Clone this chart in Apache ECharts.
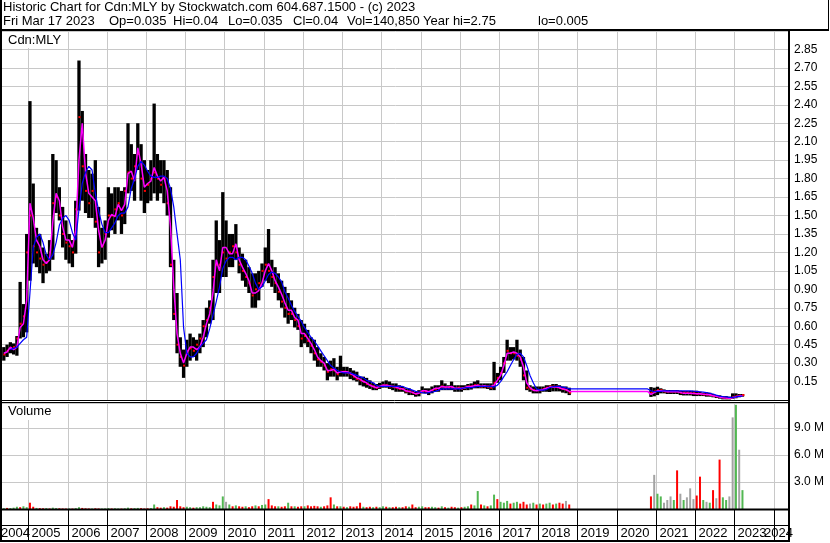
<!DOCTYPE html>
<html><head><meta charset="utf-8">
<script src="https://cdn.jsdelivr.net/npm/echarts@6/dist/echarts.min.js"></script>
<style>html,body{margin:0;padding:0;background:#fff;}#c{width:830px;height:543px;}</style>
</head><body><div id="c"></div>
<script>
// ---------- header texts ----------
const headerLine1 = 'Historic Chart for Cdn:MLY by Stockwatch.com 604.687.1500 - (c) 2023';
const headerFields = ['Fri Mar 17 2023', 'Op=0.035', 'Hi=0.04', 'Lo=0.035', 'Cl=0.04', 'Vol=140,850', 'Year hi=2.75', 'lo=0.005'];
const headerFieldX = [3, 109, 173, 228, 293, 347, 423, 538];
const symbolLabel = 'Cdn:MLY';
const volumeLabel = 'Volume';
const yearLabels = ['2004','2005','2006','2007','2008','2009','2010','2011','2012','2013','2014','2015','2016','2017','2018','2019','2020','2021','2022','2023','2024'];
const yearStarts = [2004,2005,2006,2007,2008,2009,2010,2011,2012,2013,2014,2015,2016,2017,2018,2019,2020,2021,2022,2023,2024];

// ---------- monthly data, 2004-05 .. 2023-03 ----------
const N = null;
const hi = [
 0.43,0.45,0.47,0.46,0.52,0.96,0.78,1.35,
 2.43,1.76,1.40,1.35,1.24,1.19,1.30,2.00,1.95,1.73,1.57,1.46,
 1.35,1.30,1.62,2.76,2.35,2.00,1.87,1.84,1.95,1.57,1.40,1.46,
 1.73,1.68,1.73,1.73,1.70,1.73,2.25,2.08,2.00,2.25,2.08,1.95,
 1.87,1.95,2.41,2.00,1.95,1.95,1.87,1.73,1.14,0.87,0.51,0.41,
 0.49,0.54,0.51,0.49,0.54,0.65,0.75,0.81,1.14,1.46,1.30,1.69,
 1.46,1.35,1.35,1.43,1.24,1.19,1.14,1.08,1.03,1.03,1.05,1.11,
 1.24,1.39,1.14,1.08,1.03,0.97,0.92,0.87,0.81,0.75,0.70,0.65,
 0.62,0.57,0.51,0.49,0.43,0.38,0.35,0.30,0.32,0.34,0.27,0.36,
 0.27,0.27,0.26,0.24,0.23,0.19,0.19,0.18,0.16,0.14,0.13,0.14,
 0.15,0.16,0.15,0.135,0.135,0.12,0.11,0.095,0.095,0.08,0.067,0.08,
 0.11,0.095,0.095,0.11,0.12,0.12,0.16,0.135,0.12,0.15,0.12,0.12,
 0.12,0.12,0.13,0.135,0.15,0.16,0.135,0.135,0.135,0.135,0.31,0.22,
 0.27,0.35,0.49,0.43,0.43,0.49,0.41,0.35,0.24,0.12,0.11,0.11,
 0.11,0.11,0.12,0.12,0.13,0.13,0.12,0.11,0.11,0.10,N,N,
 N,N,N,N,N,N,N,N,N,N,N,N,
 N,N,N,N,N,N,N,N,N,N,0.105,0.10,
 0.108,0.095,0.086,0.081,0.081,0.081,0.081,0.075,0.073,0.073,0.073,0.075,
 0.075,0.067,0.059,0.062,0.059,0.049,0.04,0.038,0.032,0.032,0.027,0.054,
 0.054,0.049,0.049
];
const lo = [
 0.32,0.35,0.38,0.37,0.36,0.50,0.51,0.55,
 0.97,1.11,1.08,1.03,0.95,1.03,1.05,1.14,1.52,1.46,1.24,1.14,
 1.11,1.08,1.19,1.54,1.62,1.52,1.48,1.48,1.40,1.08,1.11,1.14,
 1.32,1.38,1.35,1.46,1.35,1.43,1.68,1.70,1.62,1.87,1.62,1.52,
 1.60,1.62,1.68,1.62,1.68,1.60,1.50,1.08,0.65,0.38,0.27,0.18,
 0.27,0.32,0.35,0.32,0.38,0.43,0.51,0.62,0.65,0.87,0.87,1.00,
 1.00,1.08,1.08,1.14,1.03,0.97,0.92,0.87,0.75,0.75,0.81,0.92,
 0.97,0.95,0.92,0.87,0.81,0.75,0.67,0.62,0.65,0.59,0.57,0.43,
 0.46,0.43,0.38,0.32,0.27,0.27,0.24,0.16,0.19,0.19,0.16,0.19,
 0.19,0.19,0.17,0.16,0.15,0.12,0.11,0.10,0.09,0.08,0.08,0.09,
 0.10,0.10,0.09,0.08,0.067,0.067,0.067,0.054,0.04,0.04,0.027,0.03,
 0.054,0.054,0.04,0.054,0.067,0.067,0.08,0.08,0.08,0.08,0.067,0.067,
 0.067,0.08,0.08,0.085,0.095,0.095,0.095,0.095,0.09,0.08,0.08,0.14,
 0.16,0.22,0.32,0.32,0.33,0.32,0.27,0.16,0.08,0.067,0.054,0.054,
 0.054,0.067,0.067,0.065,0.07,0.07,0.07,0.06,0.055,0.04,N,N,
 N,N,N,N,N,N,N,N,N,N,N,N,
 N,N,N,N,N,N,N,N,N,N,0.025,0.03,
 0.04,0.054,0.054,0.049,0.049,0.049,0.049,0.04,0.037,0.037,0.037,0.032,
 0.032,0.032,0.032,0.027,0.027,0.022,0.016,0.011,0.005,0.005,0.005,0.01,
 0.014,0.022,0.027
];
const cl = [
 0.37,0.40,0.42,0.43,0.50,0.62,0.68,1.20,
 1.50,1.25,1.20,1.15,1.10,1.12,1.20,1.60,1.65,1.50,1.35,1.28,
 1.25,1.20,1.55,2.30,1.90,1.70,1.60,1.70,1.45,1.20,1.25,1.35,
 1.50,1.50,1.55,1.60,1.50,1.70,1.85,1.80,1.90,2.00,1.80,1.70,
 1.75,1.80,1.85,1.80,1.75,1.80,1.60,1.10,0.70,0.45,0.35,0.28,
 0.40,0.42,0.40,0.45,0.50,0.60,0.65,0.75,1.00,1.10,1.10,1.20,
 1.15,1.20,1.25,1.20,1.10,1.05,1.00,0.95,0.85,0.90,0.95,1.05,
 1.10,1.05,1.00,0.95,0.88,0.80,0.75,0.70,0.70,0.65,0.60,0.50,
 0.52,0.48,0.44,0.38,0.33,0.31,0.28,0.23,0.25,0.24,0.21,0.23,
 0.23,0.22,0.21,0.19,0.17,0.16,0.15,0.13,0.12,0.11,0.10,0.11,
 0.12,0.12,0.11,0.11,0.10,0.09,0.09,0.07,0.07,0.06,0.05,0.06,
 0.07,0.07,0.065,0.08,0.09,0.09,0.11,0.10,0.10,0.10,0.09,0.10,
 0.09,0.10,0.11,0.11,0.12,0.12,0.11,0.11,0.11,0.10,0.14,0.18,
 0.22,0.30,0.40,0.38,0.38,0.36,0.33,0.20,0.10,0.09,0.08,0.08,
 0.08,0.09,0.10,0.11,0.11,0.11,0.10,0.09,0.08,0.06,N,N,
 N,N,N,N,N,N,N,N,N,N,N,N,
 N,N,N,N,N,N,N,N,N,N,0.06,0.07,
 0.08,0.08,0.07,0.07,0.07,0.07,0.07,0.06,0.06,0.06,0.055,0.055,
 0.05,0.05,0.045,0.045,0.04,0.035,0.03,0.025,0.02,0.015,0.015,0.025,
 0.03,0.035,0.04
];
const maFast = [
 0.38,0.39,0.43,0.41,0.43,0.59,0.62,0.81,
 1.60,1.48,1.30,1.25,1.14,1.11,1.14,1.45,1.68,1.62,1.41,1.30,
 1.30,1.24,1.38,1.95,2.25,1.85,1.68,1.65,1.62,1.38,1.24,1.30,
 1.46,1.51,1.49,1.59,1.54,1.59,1.84,1.86,1.78,2.05,1.92,1.73,
 1.76,1.78,1.89,1.82,1.78,1.81,1.70,1.41,0.92,0.54,0.38,0.30,
 0.38,0.43,0.43,0.41,0.43,0.51,0.62,0.70,0.87,1.14,1.05,1.24,
 1.24,1.19,1.19,1.27,1.14,1.08,1.03,0.97,0.87,0.87,0.89,0.95,
 1.05,1.11,1.05,0.97,0.92,0.86,0.79,0.73,0.73,0.67,0.65,0.54,
 0.54,0.50,0.46,0.41,0.35,0.32,0.30,0.24,0.24,0.25,0.22,0.23,
 0.23,0.23,0.22,0.20,0.18,0.17,0.15,0.14,0.12,0.11,0.10,0.11,
 0.12,0.12,0.115,0.11,0.105,0.095,0.09,0.075,0.07,0.062,0.05,0.055,
 0.075,0.075,0.067,0.08,0.095,0.095,0.11,0.105,0.105,0.11,0.095,0.095,
 0.095,0.10,0.11,0.11,0.115,0.12,0.11,0.115,0.11,0.11,0.12,0.16,
 0.20,0.28,0.38,0.38,0.39,0.38,0.35,0.27,0.14,0.10,0.08,0.075,
 0.08,0.085,0.095,0.105,0.105,0.108,0.10,0.09,0.085,0.07,N,N,
 N,N,N,N,N,N,N,N,N,N,N,N,
 N,N,N,N,N,N,N,N,N,0.07,0.045,0.06,
 0.075,0.075,0.073,0.067,0.067,0.07,0.067,0.062,0.054,0.054,0.054,0.052,
 0.05,0.05,0.046,0.044,0.042,0.035,0.03,0.024,0.019,0.016,0.014,0.019,
 0.027,0.032,0.035
];
const maSlow = [
 N,N,0.41,0.42,0.43,0.46,0.49,0.51,
 0.87,1.24,1.32,1.35,1.28,1.18,1.14,1.18,1.28,1.42,1.48,1.50,
 1.46,1.36,1.30,1.55,1.76,1.85,1.90,1.87,1.68,1.54,1.43,1.36,
 1.36,1.40,1.44,1.50,1.52,1.52,1.57,1.72,1.80,1.90,1.94,1.91,
 1.86,1.82,1.81,1.81,1.82,1.82,1.80,1.72,1.57,1.35,1.14,0.59,
 0.38,0.35,0.35,0.38,0.43,0.46,0.49,0.58,0.69,0.80,0.92,1.07,
 1.13,1.16,1.16,1.14,1.16,1.16,1.14,1.09,1.03,0.95,0.90,0.92,
 0.97,1.02,1.04,1.03,1.00,0.96,0.88,0.83,0.77,0.72,0.68,0.64,
 0.59,0.55,0.51,0.48,0.44,0.40,0.36,0.32,0.28,0.26,0.24,0.23,
 0.22,0.22,0.22,0.21,0.20,0.19,0.18,0.16,0.15,0.14,0.12,0.11,
 0.11,0.11,0.11,0.11,0.11,0.11,0.11,0.10,0.09,0.08,0.07,0.065,
 0.06,0.055,0.06,0.065,0.07,0.08,0.09,0.09,0.09,0.09,0.09,0.09,
 0.09,0.10,0.10,0.10,0.105,0.11,0.11,0.11,0.11,0.11,0.105,0.12,
 0.15,0.19,0.23,0.28,0.33,0.37,0.38,0.35,0.28,0.20,0.14,0.09,
 0.08,0.08,0.085,0.10,0.108,0.11,0.11,0.105,0.10,0.09,N,N,
 N,N,N,N,N,N,N,N,N,N,N,N,
 N,N,N,N,N,N,N,N,N,0.09,0.075,0.067,
 0.07,0.07,0.075,0.075,0.075,0.075,0.075,0.075,0.075,0.075,0.075,0.072,
 0.07,0.067,0.064,0.06,0.055,0.049,0.04,0.032,0.027,0.025,0.022,0.022,
 0.025,0.03,0.032
];
// volume in millions of shares, and direction: u = up (green), d = down (red), n = unchanged (grey)
const volM = [
 0.08,0.12,0.1,0.15,0.25,0.2,0.3,0.2,
 0.7,0.25,0.12,0.1,0.08,0.1,0.06,0.15,0.1,0.08,0.06,0.05,
 0.06,0.05,0.1,0.2,0.12,0.08,0.06,0.05,0.08,0.06,0.05,0.06,
 0.1,0.06,0.08,0.06,0.05,0.08,0.15,0.08,0.1,0.12,0.1,0.06,
 0.08,0.1,0.5,0.2,0.15,0.2,0.15,0.3,0.25,1.0,0.3,0.2,
 0.25,0.2,0.15,0.2,0.2,0.3,0.25,0.2,0.8,0.5,0.4,1.4,
 0.8,0.5,0.3,0.4,0.3,0.25,0.3,0.2,0.3,0.4,0.3,0.45,
 0.5,1.1,0.4,0.3,0.3,0.25,0.3,0.7,0.3,0.3,0.25,0.3,
 0.3,0.4,0.3,0.35,0.3,0.25,0.3,0.4,1.3,0.5,0.3,0.3,
 0.25,0.2,0.3,0.25,0.3,0.7,0.25,0.2,0.25,0.2,0.25,0.2,
 0.3,0.25,0.2,0.2,0.25,0.2,0.2,0.3,0.25,0.5,0.2,0.25,
 0.3,0.2,0.2,0.25,0.2,0.15,0.3,0.2,0.15,0.25,0.2,0.15,
 0.2,0.25,0.3,0.5,0.4,2.0,0.5,0.4,0.3,0.4,1.6,1.1,
 0.8,0.7,0.9,0.6,0.7,0.8,0.6,0.8,0.5,0.6,0.7,0.5,
 0.6,0.5,0.6,0.7,0.5,0.6,0.7,0.6,0.9,0.5,N,N,
 N,N,N,N,N,N,N,N,N,N,N,N,
 N,N,N,N,N,N,N,N,N,N,1.4,3.8,
 1.7,1.4,0.7,1.0,1.4,1.0,4.3,1.7,1.0,1.3,2.3,1.1,
 1.5,3.6,1.0,0.8,0.7,2.1,1.2,5.5,1.3,1.0,1.4,10.2,
 11.6,6.6,2.1
];
const volDir = ('uduuuduu' + 'ddudduduuddd' + 'uduudddudduu' + 'uduuduuduudd' +
  'duuddudddddd' + 'uuduuuuuduuu' + 'nududduddudu' + 'uddduddududd' +
  'uddddudddudu' + 'dudddduddudu' + 'ududdudduddu' + 'udduudududdu' +
  'duuduududuud' + 'uuuduudddnud' + 'uduududdndxx' + 'xxxxxxxxxxxx' +
  'xxxxxxxxxxdn' + 'uunnnudnunnn' + 'ddunudnduunn' + 'unu').split('');

// ---------- month positions (fractional years) ----------
const monthX = [];
for (let y = 2004; y <= 2023; y++) for (let m = 1; m <= 12; m++) {
  if (y === 2004 && m < 5) continue;
  if (y === 2023 && m > 3) break;
  monthX.push(y + (m - 0.5) / 12);
}

const barData = [], fastData = [], slowData = [], volData = [];
monthX.forEach((x, i) => {
  if (hi[i] != null) barData.push([x, lo[i], hi[i], cl[i]]);
  if (maFast[i] != null) fastData.push([x, maFast[i]]);
  if (maSlow[i] != null) slowData.push([x, maSlow[i]]);
  if (volM[i] != null) volData.push([x, volM[i] * 1e6, volDir[i]]);
});

const FONT = '"Liberation Sans", Arial, sans-serif';
const GRID_COLOR = '#c8c8c8';
const volColors = { u: '#52b752', d: '#ff0000', n: '#a3a3a3' };
const X_MIN = 2004.329, X_MAX = 2024.395;
const P_MAX = 3.0, V_MAX = 11.8e6;

const chart = echarts.init(document.getElementById('c'), null, { renderer: 'canvas' });

const xCommon = {
  type: 'value', min: X_MIN, max: X_MAX,
  axisLine: { show: false }, axisTick: { show: false }, axisLabel: { show: false },
  splitLine: { show: false }
};

const yearGridData = yearStarts.map(y => [y, 0]);

const option = {
  animation: false,
  backgroundColor: '#fff',
  grid: [
    { left: 2, width: 787, top: 31, height: 369 },
    { left: 2, width: 787, top: 403, height: 106 }
  ],
  xAxis: [
    Object.assign({}, xCommon, { gridIndex: 0 }),
    Object.assign({}, xCommon, { gridIndex: 1 })
  ],
  yAxis: [
    {
      gridIndex: 0, type: 'value', position: 'right', min: 0, max: P_MAX, interval: 0.15,
      axisLine: { show: true, lineStyle: { color: '#000', width: 2 } },
      axisTick: { show: false },
      splitLine: { show: true, lineStyle: { color: GRID_COLOR, width: 1 } },
      axisLabel: {
        margin: 5, fontFamily: FONT, fontSize: 12, color: '#000',
        showMinLabel: false, showMaxLabel: false,
        formatter: v => (v <= 0.001 || v >= 2.99) ? '' : v.toFixed(2)
      }
    },
    {
      gridIndex: 1, type: 'value', position: 'right', min: 0, max: V_MAX, interval: 3e6,
      axisLine: { show: true, lineStyle: { color: '#000', width: 2 } },
      axisTick: { show: false },
      splitLine: { show: true, lineStyle: { color: GRID_COLOR, width: 1 } },
      axisLabel: {
        margin: 5, fontFamily: FONT, fontSize: 12, color: '#000',
        showMaxLabel: false,
        formatter: v => (v <= 0 || v > 11e6) ? '' : (v / 1e6).toFixed(1) + ' M'
      }
    }
  ],
  series: [
    // vertical year gridlines, price panel
    {
      type: 'custom', xAxisIndex: 0, yAxisIndex: 0, data: yearGridData, z: 1, silent: true, clip: false,
      renderItem: (params, api) => {
        const y = api.value(0);
        if (y <= X_MIN || y >= X_MAX) return null;
        const t = api.coord([y, P_MAX]), b = api.coord([y, 0]);
        const x = Math.round(t[0]) + 0.5;
        return { type: 'line', shape: { x1: x, y1: t[1], x2: x, y2: b[1] }, style: { stroke: GRID_COLOR, lineWidth: 1 } };
      }
    },
    // vertical year gridlines, volume panel + date band dividers + year labels
    {
      type: 'custom', xAxisIndex: 1, yAxisIndex: 1, data: yearGridData, z: 1, silent: true, clip: false,
      renderItem: (params, api) => {
        const yr = api.value(0);
        const t = api.coord([yr, V_MAX]), b = api.coord([yr, 0]);
        const x = Math.round(t[0]) + 0.5;
        const children = [];
        const inside = yr > X_MIN && yr < X_MAX;
        if (inside) {
          children.push({ type: 'line', shape: { x1: x, y1: t[1], x2: x, y2: b[1] }, style: { stroke: GRID_COLOR, lineWidth: 1 } });
          children.push({ type: 'line', z2: 10, shape: { x1: x, y1: b[1], x2: x, y2: b[1] + 32 }, style: { stroke: '#000', lineWidth: 1 } });
        }
        const label = yearLabels[params.dataIndex];
        const left = api.coord([X_MIN, 0])[0], right = api.coord([X_MAX, 0])[0];
        let tx = x + 3, align = 'left';
        if (!inside) { tx = left - 1; }
        if (params.dataIndex === yearLabels.length - 1) { tx = right + 4; align = 'right'; }
        children.push({ type: 'text', z2: 20, style: { text: label, x: tx, y: b[1] + 18, align: align, verticalAlign: 'top', font: '13px ' + FONT, fill: '#000' } });
        return { type: 'group', children: children };
      }
    },
    {
      type: 'custom', xAxisIndex: 0, yAxisIndex: 0, data: barData, z: 3, silent: true,
      renderItem: (params, api) => {
        const x = api.value(0);
        const pL = api.coord([x, api.value(1)]);
        const pH = api.coord([x, api.value(2)]);
        const pC = api.coord([x, api.value(3)]);
        return {
          type: 'group', children: [
            { type: 'rect', shape: { x: pH[0] - 1.65, y: pH[1], width: 3.3, height: Math.max(1, pL[1] - pH[1]) }, style: { fill: '#000' } },
            { type: 'rect', shape: { x: pC[0] - 0.5, y: pC[1] - 1, width: 2.5, height: 2 }, style: { fill: '#ff0000' } }
          ]
        };
      }
    },
    {
      type: 'line', xAxisIndex: 0, yAxisIndex: 0, data: fastData, z: 4,
      showSymbol: false, lineStyle: { color: '#ff00ff', width: 1.5 }, silent: true
    },
    {
      type: 'line', xAxisIndex: 0, yAxisIndex: 0, data: slowData, z: 5,
      showSymbol: false, lineStyle: { color: '#0000ff', width: 1.2 }, silent: true
    },
    {
      type: 'custom', xAxisIndex: 1, yAxisIndex: 1, data: volData, z: 3, silent: true,
      renderItem: (params, api) => {
        const x = api.value(0);
        const p0 = api.coord([x, 0]);
        const p1 = api.coord([x, api.value(1)]);
        const dir = volData[params.dataIndex][2];
        return { type: 'rect', shape: { x: p0[0] - 1, y: p1[1], width: 2, height: Math.max(1, p0[1] - p1[1]) }, style: { fill: volColors[dir] || '#a3a3a3' } };
      }
    }
  ],
  graphic: [
    { type: 'text', left: 3, top: 1, z: 100, style: { text: headerLine1, font: '13px ' + FONT, fill: '#000' } }
  ].concat(headerFields.map((f, i) => ({
    type: 'text', left: headerFieldX[i], top: 15, z: 100, style: { text: f, font: '13px ' + FONT, fill: '#000' }
  }))).concat([
    { type: 'rect', z: 90, shape: { x: 3, y: 32, width: 63, height: 16 }, style: { fill: '#fff' } },
    { type: 'text', z: 100, left: 8, top: 34, style: { text: symbolLabel, font: '13px ' + FONT, fill: '#000' } },
    { type: 'rect', z: 90, shape: { x: 3, y: 404, width: 56, height: 16 }, style: { fill: '#fff' } },
    { type: 'text', z: 100, left: 8, top: 405, style: { text: volumeLabel, font: '13px ' + FONT, fill: '#000' } },
    // frame lines
    { type: 'line', z: 110, shape: { x1: 1, y1: 0, x2: 1, y2: 542 }, style: { stroke: '#000', lineWidth: 2 } },
    { type: 'line', z: 110, shape: { x1: 0, y1: 30, x2: 829, y2: 30 }, style: { stroke: '#000', lineWidth: 2 } },
    { type: 'line', z: 110, shape: { x1: 828.5, y1: 0, x2: 828.5, y2: 30 }, style: { stroke: '#000', lineWidth: 1 } },
    { type: 'line', z: 110, shape: { x1: 0, y1: 400.5, x2: 789, y2: 400.5 }, style: { stroke: '#000', lineWidth: 1 } },
    { type: 'line', z: 110, shape: { x1: 0, y1: 402.5, x2: 789, y2: 402.5 }, style: { stroke: '#000', lineWidth: 1 } },
    { type: 'line', z: 110, shape: { x1: 0, y1: 509.5, x2: 789, y2: 509.5 }, style: { stroke: '#000', lineWidth: 2 } },
    { type: 'line', z: 110, shape: { x1: 0, y1: 525.5, x2: 789, y2: 525.5 }, style: { stroke: '#000', lineWidth: 1 } },
    { type: 'line', z: 110, shape: { x1: 0, y1: 541, x2: 790, y2: 541 }, style: { stroke: '#000', lineWidth: 2 } },
    { type: 'line', z: 110, shape: { x1: 789, y1: 30, x2: 789, y2: 542 }, style: { stroke: '#000', lineWidth: 2 } }
  ])
};
chart.setOption(option);
</script>
</body></html>
